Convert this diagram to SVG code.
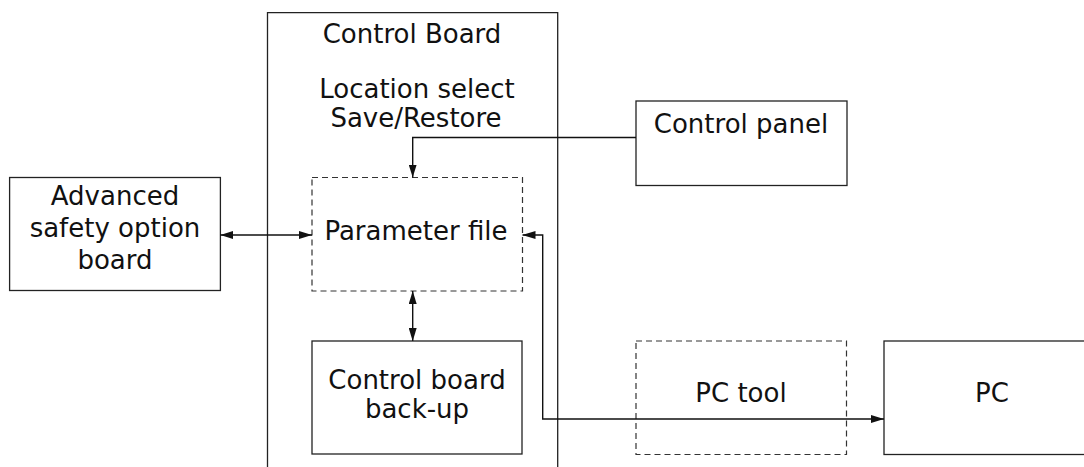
<svg xmlns="http://www.w3.org/2000/svg" width="1084" height="467" viewBox="0 0 1084 467">
<style>
.box{fill:#fff;stroke:#222;stroke-width:1.3}
.dash{fill:#fff;stroke:#333;stroke-width:1.2;stroke-dasharray:6 4}
.t{font-family:"DejaVu Sans",Verdana,sans-serif;font-size:26px;fill:#111;text-anchor:middle}
.c{fill:none;stroke:#111;stroke-width:1.4}
</style>
<defs>
<marker id="ah" markerUnits="userSpaceOnUse" markerWidth="13" markerHeight="8" viewBox="0 0 13 8" refX="13" refY="4" orient="auto-start-reverse">
<path d="M0,0 L13,4 L0,8 z" fill="#111"/>
</marker>
</defs>
<rect width="1084" height="467" fill="#fff"/>
<g id="control-board">
<path class="box" d="M267.5,470 V12.7 H557.7 V470" fill="none"/>
<text class="t" x="412" y="43">Control Board</text>
<text class="t" x="417" y="98">Location select</text>
<text class="t" x="416" y="127">Save/Restore</text>
</g>
<g id="control-panel">
<rect class="box" x="636" y="101" width="211" height="84.5"/>
<text class="t" x="741" y="133">Control panel</text>
</g>
<g id="advanced-safety">
<rect class="box" x="9.6" y="177.5" width="210.8" height="113"/>
<text class="t" x="115" y="205">Advanced</text>
<text class="t" x="115" y="237">safety option</text>
<text class="t" x="115" y="269">board</text>
</g>
<g id="parameter-file">
<rect class="dash" x="312" y="177.5" width="210.5" height="113.5"/>
<text class="t" x="416" y="240">Parameter file</text>
</g>
<g id="backup">
<rect class="box" x="312" y="341" width="210" height="113"/>
<text class="t" x="417" y="389">Control board</text>
<text class="t" x="417" y="418">back-up</text>
</g>
<g id="pc-tool">
<rect class="dash" x="636" y="341" width="210.5" height="113.5"/>
<text class="t" x="741" y="402">PC tool</text>
</g>
<g id="pc">
<rect class="box" x="884" y="341" width="210" height="113.5"/>
<text class="t" x="992" y="402">PC</text>
</g>
<g id="connectors">
<path class="c" d="M636,137.5 H412.7 V177.5" marker-end="url(#ah)"/>
<path class="c" d="M220.4,235 H312" marker-start="url(#ah)" marker-end="url(#ah)"/>
<path class="c" d="M412.7,291 V341" marker-start="url(#ah)" marker-end="url(#ah)"/>
<path class="c" d="M522.5,235 H542.7 V419 H884" marker-start="url(#ah)" marker-end="url(#ah)"/>
</g>
</svg>
